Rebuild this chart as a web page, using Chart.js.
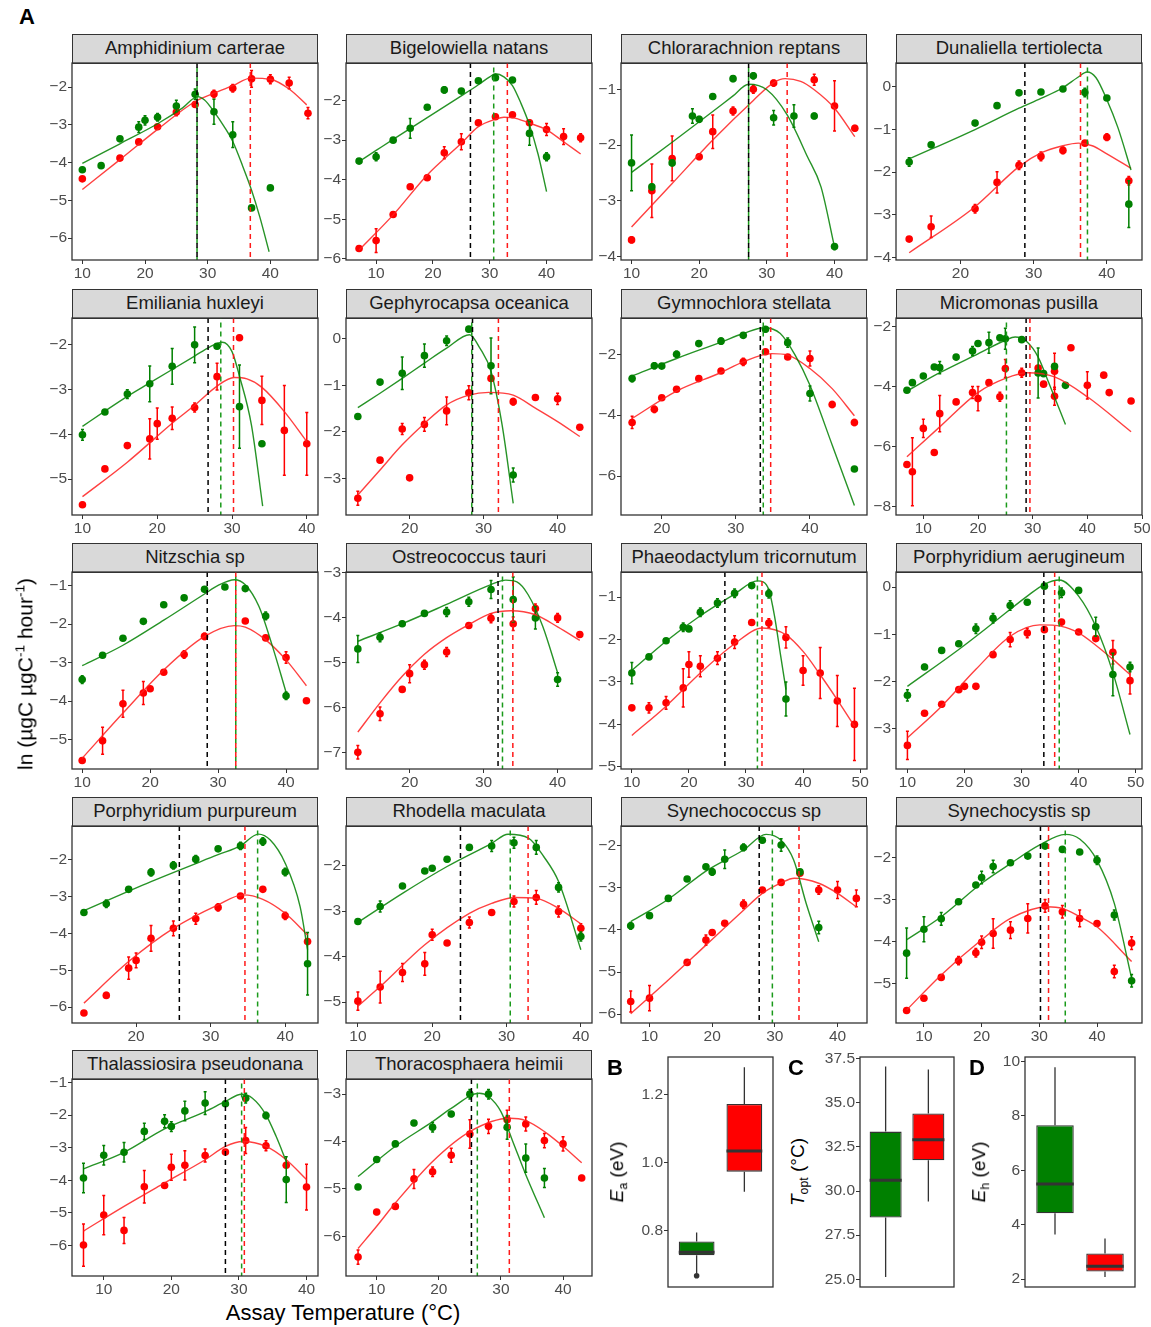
<!DOCTYPE html>
<html>
<head>
<meta charset="utf-8">
<script src="https://cdn.jsdelivr.net/npm/chart.js@4.4.1/dist/chart.umd.min.js"></script>
<style>
  body { margin: 0; background: #fff; }
  #fig { position: relative; width: 1151px; height: 1327px; overflow: hidden; font-family: "Liberation Sans", Arial, sans-serif; }
  #fig canvas { position: absolute; }
  .strip { position: absolute; box-sizing: border-box; background: #d9d9d9; border: 1.2px solid #333;
           color: #1a1a1a; font-size: 18.5px; text-align: center; line-height: 26px; white-space: nowrap; }
  .tag { position: absolute; font-weight: bold; font-size: 22px; line-height: 1; color: #000; }
  .title { position: absolute; white-space: nowrap; color: #000; }
  .rot { transform: translate(-50%, -50%) rotate(-90deg); }
  .ctr { transform: translate(-50%, -50%); }
  .sub { font-size: 0.65em; vertical-align: -0.3em; }
  .sup { font-size: 0.65em; vertical-align: 0.6em; }
</style>
</head>
<body>
<div id="fig"></div>
<script>
// ---- data ----
const species = ['Amphidinium carterae', 'Bigelowiella natans', 'Chlorarachnion reptans', 'Dunaliella tertiolecta',
  'Emiliania huxleyi', 'Gephyrocapsa oceanica', 'Gymnochlora stellata', 'Micromonas pusilla',
  'Nitzschia sp', 'Ostreococcus tauri', 'Phaeodactylum tricornutum', 'Porphyridium aerugineum',
  'Porphyridium purpureum', 'Rhodella maculata', 'Synechococcus sp', 'Synechocystis sp',
  'Thalassiosira pseudonana', 'Thoracosphaera heimii'];

const xRange = [[8.35, 47.6], [4.7, 48.0], [8.44, 44.8], [11.2, 44.8], [8.6, 41.5], [11.4, 44.65],
  [14.5, 47.7], [5.0, 50.0], [8.5, 44.7], [11.4, 44.65], [8.1, 51.2], [8.0, 51.1],
  [11.4, 44.4], [8.4, 41.5], [5.45, 44.7], [5.16, 47.8], [5.3, 41.7], [5.06, 44.66]];
const yRange = [[-6.58, -1.36], [-6.03, -1.05], [-4.06, -0.53], [-4.06, 0.56], [-5.8, -1.4], [-3.79, 0.45],
  [-7.28, -0.81], [-8.27, -1.72], [-5.76, -0.65], [-7.36, -2.98], [-5.05, -0.41], [-3.85, 0.32],
  [-6.43, -1.08], [-5.46, -1.13], [-6.21, -1.53], [-5.95, -1.24], [-6.94, -0.89], [-6.84, -2.68]];
const xTicks = [[10, 20, 30, 40], [10, 20, 30, 40], [10, 20, 30, 40], [20, 30, 40], [10, 20, 30, 40], [20, 30, 40],
  [20, 30, 40], [10, 20, 30, 40, 50], [10, 20, 30, 40], [20, 30, 40], [10, 20, 30, 40, 50], [10, 20, 30, 40, 50],
  [20, 30, 40], [10, 20, 30, 40], [10, 20, 30, 40], [10, 20, 30, 40], [10, 20, 30, 40], [10, 20, 30, 40]];
const yTicks = [[-6, -5, -4, -3, -2], [-6, -5, -4, -3, -2], [-4, -3, -2, -1], [-4, -3, -2, -1, 0], [-5, -4, -3, -2],
  [-3, -2, -1, 0], [-6, -4, -2], [-8, -6, -4, -2], [-5, -4, -3, -2, -1], [-7, -6, -5, -4, -3], [-5, -4, -3, -2, -1],
  [-3, -2, -1, 0], [-6, -5, -4, -3, -2], [-5, -4, -3, -2], [-6, -5, -4, -3, -2], [-5, -4, -3, -2],
  [-6, -5, -4, -3, -2, -1], [-6, -5, -4, -3]];

// [temperature, ln rate, error half-width]
const greenPts = [
  [[10,-4.19,0.06],[13,-4.08,0.05],[16,-3.37,0.05],[19,-3.06,0.14],[20,-2.88,0.12],[22,-2.8,0.1],[25,-2.5,0.15],[28,-2.19,0.14],[31,-2.65,0.33],[34,-3.26,0.34],[37,-5.2,0.06],[40,-4.67,0.05]],
  [[7,-3.53,0.05],[10,-3.42,0.1],[13,-3.0,0.05],[16,-2.7,0.25],[19,-2.17,0.05],[22,-1.73,0.08],[25,-1.76,0.05],[28,-1.5,0.05],[31,-1.42,0.05],[34,-1.48,0.05],[37,-2.83,0.3],[40,-3.42,0.1]],
  [[10,-2.32,0.5],[13,-2.75,0.05],[16,-2.32,0.05],[19,-1.48,0.13],[20,-1.54,0.05],[22,-1.13,0.05],[25,-0.81,0.05],[28,-0.76,0.05],[31,-1.51,0.13],[34,-1.48,0.2],[37,-1.48,0.05],[40,-3.82,0.05]],
  [[13,-1.76,0.1],[16,-1.36,0.05],[22,-0.85,0.05],[25,-0.44,0.05],[28,-0.14,0.05],[31,-0.12,0.05],[34,-0.05,0.05],[37,-0.13,0.1],[40,-0.26,0.05],[43,-2.75,0.55]],
  [[10,-4.01,0.12],[13,-3.5,0.04],[16,-3.1,0.1],[19,-2.87,0.4],[22,-2.48,0.4],[25,-2.0,0.4],[28,-2.03,0.05],[31,-3.38,0.93],[34,-4.21,0.05]],
  [[13,-1.67,0.05],[16,-0.93,0.05],[19,-0.74,0.35],[22,-0.36,0.25],[25,-0.04,0.1],[28,0.21,0.05],[31,-0.58,0.6],[34,-2.93,0.15]],
  [[16,-2.8,0.1],[19,-2.38,0.1],[20,-2.39,0.05],[22,-2.0,0.1],[25,-1.65,0.08],[28,-1.57,0.1],[31,-1.38,0.08],[34,-1.18,0.08],[37,-1.62,0.15],[40,-3.29,0.25],[46,-5.77,0.05]],
  [[7,-4.12,0.05],[8,-3.87,0.05],[10,-3.65,0.05],[12,-3.35,0.05],[13,-3.37,0.2],[16,-3.02,0.08],[19,-2.82,0.15],[20,-2.57,0.05],[22,-2.54,0.35],[24,-2.38,0.05],[25,-2.41,0.35],[28,-2.44,0.08],[31,-3.55,0.83],[32,-3.57,0.05],[34,-3.33,0.05],[36,-3.96,0.05]],
  [[10,-3.44,0.1],[13,-2.81,0.05],[16,-2.37,0.05],[19,-1.93,0.05],[22,-1.5,0.05],[25,-1.32,0.05],[28,-1.1,0.05],[31,-1.04,0.05],[34,-1.08,0.05],[37,-1.79,0.1],[40,-3.86,0.1]],
  [[13,-4.69,0.3],[16,-4.43,0.1],[19,-4.13,0.05],[22,-3.9,0.05],[25,-3.87,0.1],[28,-3.64,0.1],[31,-3.37,0.2],[34,-3.59,0.5],[37,-4.0,0.25],[40,-5.37,0.15]],
  [[10,-2.79,0.25],[13,-2.41,0.05],[16,-2.03,0.05],[19,-1.71,0.1],[20,-1.75,0.05],[22,-1.36,0.1],[25,-1.14,0.1],[28,-0.91,0.1],[31,-0.73,0.05],[34,-0.92,0.1],[37,-3.4,0.4]],
  [[10,-2.29,0.12],[13,-1.69,0.05],[16,-1.34,0.05],[19,-1.2,0.05],[22,-0.88,0.1],[25,-0.66,0.1],[28,-0.39,0.1],[31,-0.32,0.05],[34,0.02,0.05],[37,-0.12,0.1],[40,-0.07,0.05],[43,-0.84,0.2],[46,-1.85,0.45],[49,-1.69,0.1]],
  [[13,-3.43,0.05],[16,-3.19,0.1],[19,-2.8,0.05],[22,-2.34,0.1],[25,-2.15,0.1],[28,-1.98,0.1],[31,-1.7,0.05],[34,-1.62,0.1],[37,-1.5,0.1],[40,-2.33,0.1],[43,-4.82,0.85]],
  [[10,-3.23,0.05],[13,-2.9,0.12],[16,-2.45,0.05],[19,-2.12,0.05],[20,-2.06,0.05],[22,-1.86,0.05],[25,-1.6,0.05],[28,-1.57,0.12],[31,-1.5,0.12],[34,-1.6,0.15],[37,-2.48,0.1],[40,-3.56,0.1]],
  [[7,-3.9,0.08],[10,-3.66,0.05],[13,-3.25,0.05],[16,-2.79,0.05],[19,-2.5,0.05],[20,-2.62,0.08],[22,-2.32,0.22],[25,-2.04,0.08],[28,-1.87,0.05],[31,-1.98,0.15],[34,-2.62,0.05],[37,-3.94,0.15]],
  [[7,-4.28,0.6],[10,-3.71,0.3],[13,-3.46,0.15],[16,-3.05,0.05],[19,-2.65,0.05],[20,-2.47,0.15],[22,-2.21,0.15],[25,-2.12,0.05],[28,-1.96,0.05],[31,-1.72,0.05],[34,-1.8,0.05],[37,-1.86,0.05],[40,-2.06,0.1],[43,-3.37,0.12],[46,-4.94,0.15]],
  [[7,-3.93,0.45],[10,-3.23,0.3],[13,-3.14,0.3],[16,-2.5,0.25],[19,-2.19,0.2],[20,-2.35,0.15],[22,-1.87,0.3],[25,-1.63,0.35],[28,-1.65,0.05],[31,-1.48,0.15],[34,-2.01,0.1],[37,-3.98,0.7]],
  [[7,-4.96,0.05],[10,-4.38,0.05],[13,-4.05,0.05],[16,-3.61,0.05],[19,-3.7,0.1],[22,-3.42,0.05],[25,-3.0,0.1],[28,-3.0,0.1],[31,-3.7,0.25],[34,-4.35,0.3],[37,-4.77,0.2]]
];
const redPts = [
  [[10,-4.43,0.05],[16,-3.88,0.05],[19,-3.45,0.05],[22,-3.05,0.05],[25,-2.66,0.1],[28,-2.46,0.06],[31,-2.18,0.1],[34,-2.03,0.1],[37,-1.78,0.22],[40,-1.79,0.12],[43,-1.89,0.15],[46,-2.69,0.15]],
  [[7,-5.74,0.05],[10,-5.54,0.3],[13,-4.88,0.06],[16,-4.18,0.05],[19,-3.95,0.06],[22,-3.32,0.15],[25,-3.04,0.2],[28,-2.56,0.05],[31,-2.41,0.06],[34,-2.36,0.05],[37,-2.56,0.06],[40,-2.73,0.15],[43,-2.91,0.2],[46,-2.94,0.1]],
  [[10,-3.7,0.05],[13,-2.82,0.48],[16,-2.24,0.4],[20,-2.21,0.05],[22,-1.76,0.3],[25,-1.39,0.07],[28,-1.0,0.07],[31,-0.89,0.05],[37,-0.83,0.1],[40,-1.3,0.45],[43,-1.7,0.05]],
  [[13,-3.57,0.05],[16,-3.28,0.25],[22,-2.86,0.1],[25,-2.24,0.25],[28,-1.84,0.1],[31,-1.63,0.1],[34,-1.49,0.08],[37,-1.32,0.05],[40,-1.18,0.08],[43,-2.2,0.1]],
  [[10,-5.57,0.05],[13,-4.77,0.05],[16,-4.25,0.05],[19,-4.1,0.45],[20,-3.76,0.35],[22,-3.64,0.25],[25,-3.4,0.1],[28,-2.71,0.3],[31,-1.84,0.05],[34,-3.24,0.54],[37,-3.91,1.0],[40,-4.21,0.7]],
  [[13,-3.43,0.15],[16,-2.61,0.05],[19,-1.94,0.12],[20,-2.99,0.05],[22,-1.84,0.15],[25,-1.55,0.3],[28,-1.16,0.15],[31,-0.85,0.05],[34,-1.35,0.07],[37,-1.26,0.05],[40,-1.29,0.12],[43,-1.9,0.05]],
  [[16,-4.24,0.2],[19,-3.81,0.1],[20,-3.43,0.05],[22,-3.15,0.05],[25,-2.8,0.05],[28,-2.55,0.05],[31,-2.25,0.12],[34,-1.92,0.05],[37,-2.09,0.05],[40,-2.14,0.25],[43,-3.65,0.1],[46,-4.24,0.1]],
  [[7,-6.59,0.05],[8,-6.83,1.13],[10,-5.39,0.3],[12,-6.19,0.05],[13,-4.9,0.6],[16,-4.51,0.05],[19,-4.2,0.2],[20,-4.4,0.4],[22,-3.87,0.05],[24,-4.34,0.15],[25,-3.4,0.3],[28,-3.54,0.15],[31,-3.38,0.05],[32,-3.92,0.05],[34,-3.49,0.6],[34,-4.32,0.3],[37,-2.71,0.05],[40,-3.96,0.45],[43,-3.62,0.05],[44,-4.2,0.05],[48,-4.48,0.05]],
  [[10,-5.54,0.05],[13,-5.03,0.35],[16,-4.07,0.35],[19,-3.79,0.3],[20,-3.68,0.05],[22,-3.25,0.05],[25,-2.79,0.1],[28,-2.32,0.08],[34,-1.92,0.05],[37,-2.36,0.05],[40,-2.87,0.15],[43,-3.99,0.05]],
  [[13,-6.99,0.15],[16,-6.13,0.15],[19,-5.59,0.05],[20,-5.24,0.2],[22,-5.04,0.1],[25,-4.76,0.1],[28,-4.17,0.05],[31,-4.01,0.1],[34,-4.13,0.15],[37,-3.79,0.1],[40,-4.0,0.1],[43,-4.37,0.05]],
  [[10,-3.61,0.05],[13,-3.61,0.12],[16,-3.49,0.15],[19,-3.14,0.45],[20,-2.59,0.3],[22,-2.63,0.25],[25,-2.44,0.15],[28,-2.06,0.15],[31,-1.6,0.05],[34,-1.61,0.1],[37,-1.95,0.25],[40,-2.73,0.35],[43,-2.79,0.6],[46,-3.45,0.6],[49,-4.0,0.85]],
  [[10,-3.35,0.3],[13,-2.67,0.05],[16,-2.48,0.05],[19,-2.17,0.05],[20,-2.1,0.05],[22,-2.1,0.05],[25,-1.43,0.05],[28,-1.11,0.15],[31,-0.97,0.1],[34,-0.9,0.05],[37,-0.74,0.05],[40,-0.95,0.05],[43,-1.09,0.05],[46,-1.38,0.25],[49,-1.98,0.28]],
  [[13,-6.16,0.05],[16,-5.68,0.08],[19,-4.94,0.3],[20,-4.73,0.2],[22,-4.13,0.35],[25,-3.86,0.2],[28,-3.6,0.15],[31,-3.29,0.1],[34,-2.98,0.05],[37,-2.8,0.05],[40,-3.52,0.1],[43,-4.22,0.05]],
  [[10,-4.98,0.2],[13,-4.67,0.35],[16,-4.35,0.2],[19,-4.16,0.25],[20,-3.52,0.12],[22,-3.7,0.05],[25,-3.25,0.12],[28,-3.03,0.05],[31,-2.79,0.12],[34,-2.7,0.15],[37,-3.01,0.12],[40,-3.38,0.1]],
  [[7,-5.7,0.25],[10,-5.62,0.3],[16,-4.77,0.05],[19,-4.24,0.12],[20,-4.06,0.05],[22,-3.84,0.05],[25,-3.39,0.1],[28,-3.05,0.05],[31,-2.87,0.05],[34,-2.65,0.05],[37,-3.05,0.1],[40,-3.05,0.2],[43,-3.25,0.2]],
  [[7,-5.65,0.05],[10,-5.36,0.05],[13,-4.86,0.05],[16,-4.46,0.1],[19,-4.27,0.1],[20,-4.02,0.15],[22,-3.81,0.35],[25,-3.73,0.2],[28,-3.45,0.35],[31,-3.15,0.15],[34,-3.29,0.15],[37,-3.45,0.2],[40,-3.57,0.05],[43,-4.72,0.15],[46,-4.04,0.15]],
  [[7,-5.99,0.65],[10,-5.07,0.6],[13,-5.54,0.4],[16,-4.2,0.5],[19,-4.16,0.05],[20,-3.6,0.4],[22,-3.54,0.45],[25,-3.24,0.2],[28,-3.13,0.05],[31,-2.78,0.4],[34,-2.94,0.15],[37,-3.54,0.05],[40,-4.21,0.7]],
  [[7,-6.44,0.15],[10,-5.49,0.05],[13,-5.37,0.05],[16,-4.79,0.2],[19,-4.64,0.1],[22,-4.29,0.15],[25,-3.84,0.3],[28,-3.68,0.15],[31,-3.54,0.2],[34,-3.63,0.15],[37,-3.98,0.15],[40,-4.05,0.15],[43,-4.77,0.05]]
];

// fitted curves as [temperature, ln rate]
const greenFit = [
  [[10,-4.02],[16,-3.5],[22,-2.97],[26,-2.55],[28.4,-2.25],[29.5,-2.34],[31,-2.65],[32.6,-3.04],[34,-3.44],[35.6,-4.1],[37,-4.73],[38.3,-5.43],[39.8,-6.36]],
  [[7,-3.54],[10,-3.26],[13,-2.98],[19,-2.43],[25,-1.88],[28,-1.6],[30,-1.4],[31,-1.32],[32.5,-1.4],[34,-1.62],[35.5,-2.07],[37,-2.62],[38.5,-3.35],[40,-4.3]],
  [[10,-2.49],[16,-1.95],[22,-1.4],[25,-1.12],[27.3,-0.91],[30,-1.01],[33,-1.46],[36,-2.21],[38,-2.75],[40,-3.83]],
  [[13,-1.69],[22,-1.0],[28,-0.5],[31,-0.27],[34,-0.02],[36,0.22],[37.3,0.35],[38.5,0.22],[40,-0.3],[41.5,-0.95],[43.3,-1.95]],
  [[10,-3.82],[13,-3.48],[16,-3.15],[19,-2.85],[22,-2.55],[25,-2.25],[27,-2.05],[28.7,-1.94],[30,-2.15],[31,-2.7],[32.6,-3.79],[34.1,-5.6]],
  [[13,-1.48],[16,-1.17],[19,-0.85],[22,-0.52],[25,-0.2],[28.1,0.09],[29.5,-0.2],[31,-0.7],[32.5,-1.85],[34,-3.54]],
  [[16,-2.71],[22,-2.14],[28,-1.6],[31,-1.32],[33.8,-1.13],[36,-1.32],[38,-2.03],[40,-3.02],[43,-4.98],[46,-6.97]],
  [[7,-4.15],[13,-3.54],[20,-2.91],[25,-2.46],[26.8,-2.35],[29,-2.52],[31,-3.02],[33,-3.9],[36,-5.26]],
  [[10,-3.08],[16,-2.55],[22,-1.9],[28,-1.22],[30,-1.0],[32.4,-0.85],[34,-0.98],[36,-1.54],[38,-2.58],[40,-3.77]],
  [[13,-4.52],[19,-4.13],[25,-3.7],[31,-3.26],[33,-3.16],[34.5,-3.2],[36,-3.48],[38,-4.19],[40,-5.22]],
  [[10,-2.73],[16,-2.04],[22,-1.44],[28,-0.93],[32,-0.62],[33,-0.64],[34,-0.83],[35,-1.45],[36,-2.32],[37,-3.18]],
  [[10,-2.1],[19,-1.32],[25,-0.76],[31,-0.19],[34,0.06],[36.6,0.15],[40,-0.19],[43,-0.83],[46,-1.81],[49,-3.12]],
  [[13,-3.38],[22,-2.59],[31,-1.86],[34,-1.62],[36.4,-1.3],[38,-1.46],[40,-2.09],[42,-3.27],[43,-4.44]],
  [[10,-3.25],[16,-2.61],[22,-2.02],[28,-1.51],[30.2,-1.31],[33,-1.4],[35,-1.8],[37,-2.35],[40,-3.85]],
  [[7,-3.8],[13,-3.27],[19,-2.6],[25,-2.1],[28.6,-1.73],[31,-1.87],[33,-2.34],[35,-3.37],[37,-4.28]],
  [[7,-3.96],[13,-3.41],[20,-2.61],[25,-2.14],[30,-1.7],[34.5,-1.44],[37,-1.55],[40,-2.06],[43,-3.09],[46,-4.88]],
  [[7,-3.65],[13,-3.14],[19,-2.42],[25,-1.89],[28,-1.58],[30.4,-1.36],[32,-1.48],[34,-1.99],[35.5,-2.65],[37,-3.42]],
  [[7,-4.74],[13,-4.1],[19,-3.58],[22,-3.3],[26.5,-2.98],[28,-3.05],[30,-3.37],[32,-4.03],[34,-4.7],[37,-5.61]]
];
const redFit = [
  [[10,-4.71],[16,-3.92],[22,-3.12],[28,-2.38],[31,-2.16],[34,-1.96],[36.9,-1.76],[40,-1.79],[43,-2.05],[45.8,-2.47]],
  [[7,-5.78],[13,-4.89],[19,-3.88],[25,-3.08],[28,-2.66],[31,-2.47],[32.5,-2.42],[34,-2.43],[37,-2.57],[40,-2.74],[43,-3.04],[46,-3.35]],
  [[10,-3.47],[16,-2.69],[22,-1.91],[28,-1.2],[31,-0.88],[32.7,-0.81],[35,-0.86],[37,-1.01],[40,-1.34],[43,-1.85]],
  [[13,-3.89],[22,-2.81],[28,-1.87],[31,-1.55],[34,-1.38],[36.1,-1.32],[38,-1.38],[40,-1.57],[43.3,-1.91]],
  [[10,-5.39],[16,-4.62],[22,-3.75],[25,-3.35],[28,-2.92],[30.3,-2.73],[32,-2.76],[34,-2.95],[37,-3.49],[40,-4.16]],
  [[13,-3.36],[16,-2.82],[19,-2.28],[22,-1.82],[25,-1.42],[28,-1.21],[30.7,-1.15],[34,-1.21],[37,-1.49],[40,-1.78],[43,-2.1]],
  [[16,-4.11],[22,-3.21],[28,-2.6],[31,-2.25],[34.8,-1.98],[37,-2.03],[40,-2.47],[43,-3.13],[46,-4.02]],
  [[7,-6.33],[13,-5.34],[20,-4.2],[25,-3.73],[29,-3.54],[34,-3.68],[40,-4.34],[48,-5.5]],
  [[10,-5.48],[16,-4.31],[22,-3.19],[28,-2.32],[32.4,-2.04],[34,-2.08],[37,-2.41],[40,-2.93],[43,-3.6]],
  [[13,-6.54],[16,-5.89],[19,-5.3],[22,-4.81],[25,-4.44],[28,-4.15],[31,-3.9],[33.7,-3.84],[37,-3.93],[40,-4.2],[43,-4.5]],
  [[10,-4.26],[16,-3.57],[22,-2.79],[28,-2.1],[32.9,-1.73],[37,-1.89],[40,-2.28],[43,-2.83],[46,-3.42],[49,-4.04]],
  [[10,-3.19],[16,-2.52],[22,-1.74],[28,-1.04],[33.2,-0.8],[37,-0.83],[40,-0.97],[43,-1.23],[46,-1.53],[49,-1.85]],
  [[13,-5.89],[19,-4.76],[25,-3.86],[31,-3.22],[34.35,-2.95],[37,-3.07],[40,-3.45],[43,-4.04]],
  [[10,-5.09],[13,-4.66],[19,-3.74],[25,-3.05],[28,-2.83],[31.1,-2.7],[34,-2.72],[37,-2.94],[40,-3.28]],
  [[7,-5.99],[13,-5.19],[19,-4.36],[25,-3.53],[28,-3.13],[31,-2.88],[33.1,-2.77],[37,-2.89],[40,-3.13],[43,-3.45]],
  [[7,-5.64],[13,-4.8],[20,-3.96],[25,-3.45],[31.4,-3.17],[34,-3.21],[37,-3.41],[40,-3.65],[46,-4.48]],
  [[7,-5.56],[13,-4.8],[19,-4.08],[25,-3.37],[28,-2.96],[30.6,-2.81],[34,-2.96],[37,-3.37],[40,-3.98]],
  [[7,-6.26],[10,-5.79],[13,-5.3],[19,-4.42],[25,-3.79],[31.4,-3.51],[34,-3.56],[37,-3.79],[40,-4.1],[43,-4.45]]
];

// optimum temperatures (dashed lines)
const toptBlack = [28.3, 26.6, 27.3, 28.8, 26.8, 28.5, 33.3, 28.8, 28.4, 31.95, 26.3, 33.9, 25.8, 23.8, 27.5, 30.2, 28.0, 25.25];
const toptGreen = [28.3, 30.7, 27.3, 37.35, 28.5, 28.4, 33.7, 25.2, 32.6, 32.55, 32.0, 36.6, 36.3, 30.5, 29.6, 34.5, 30.4, 26.2];
const toptRed = [36.8, 33.1, 33.0, 36.4, 30.2, 32.0, 34.7, 29.5, 32.6, 33.95, 32.8, 35.8, 34.6, 32.9, 33.85, 31.6, 30.8, 31.35];

// box plots: [lower whisker, q1, median, q3, upper whisker] for group 1 (green) and 2 (red)
const eaStats = [[0.675, 0.728, 0.737, 0.769, 0.795], [0.915, 0.974, 1.035, 1.173, 1.281]];
const eaOutliers = [[1, 0.668]];
const toptStats = [[25.13, 28.5, 30.61, 33.37, 37.06], [29.41, 31.75, 32.91, 34.4, 36.89]];
const ehStats = [[3.64, 4.42, 5.49, 7.65, 9.78], [2.08, 2.28, 2.47, 2.94, 3.49]];
const eaRange = [0.635, 1.311], toptRange = [24.56, 37.6], ehRange = [1.71, 10.16];
const eaTicks = [0.8, 1.0, 1.2], toptTicks = [25, 27.5, 30, 32.5, 35, 37.5], ehTicks = [2, 4, 6, 8, 10];

// ---- layout and styles ----
const GREEN = '#008000', RED = '#ff0000';
const colLeft = [72, 346, 621, 896], rowTop = [63, 318, 572, 826, 1079];
const PW = 246, PH = 197, STRIP = 29;
const AX_Y = 44, AX_X = 24, PT = 8, PR = 12;
const TICK_FONT = 15.5;
Chart.defaults.font.family = '"Liberation Sans", Arial, sans-serif';

const fig = document.getElementById('fig');

function minus(v) {
  return v < 0 ? '\u2212' + Math.abs(v) : String(v);
}

// error bars drawn right after each point dataset
const errorBars = {
  id: 'errorBars',
  afterDatasetDraw(chart, args) {
    const ds = chart.data.datasets[args.index];
    if (!ds.err) return;
    const { ctx } = chart;
    const xs = chart.scales.x, ys = chart.scales.y;
    ctx.save();
    ctx.strokeStyle = ds.backgroundColor;
    ctx.lineWidth = 1.5;
    ds.data.forEach((p, i) => {
      const e = ds.err[i];
      if (!e) return;
      const px = xs.getPixelForValue(p.x);
      const y1 = ys.getPixelForValue(p.y - e), y2 = ys.getPixelForValue(p.y + e);
      ctx.beginPath();
      ctx.moveTo(px, y1); ctx.lineTo(px, y2);
      ctx.moveTo(px - 1.5, y1); ctx.lineTo(px + 1.5, y1);
      ctx.moveTo(px - 1.5, y2); ctx.lineTo(px + 1.5, y2);
      ctx.stroke();
    });
    ctx.restore();
  }
};

// dashed optimum lines + panel frame
const panelDecor = {
  id: 'panelDecor',
  afterDatasetsDraw(chart, args, opts) {
    const { ctx, chartArea: a } = chart;
    const xs = chart.scales.x;
    ctx.save();
    ctx.lineWidth = 1.5;
    ctx.setLineDash([5, 4]);
    [['green', '#1a9a1a', 4.5], ['red', '#ff1a1a', 0], ['black', '#000', 0]].forEach(([k, c, off]) => {
      const v = opts[k];
      if (v == null) return;
      const px = xs.getPixelForValue(v);
      ctx.strokeStyle = c;
      ctx.lineDashOffset = off;
      ctx.beginPath();
      ctx.moveTo(px, a.top); ctx.lineTo(px, a.bottom);
      ctx.stroke();
    });
    ctx.setLineDash([]);
    ctx.strokeStyle = '#333';
    ctx.lineWidth = 1.3;
    ctx.strokeRect(a.left, a.top, a.right - a.left, a.bottom - a.top);
    ctx.restore();
  }
};

function axisStyle(ticks, range, isY) {
  return {
    type: 'linear',
    min: range[0],
    max: range[1],
    afterBuildTicks: s => { s.ticks = ticks.map(v => ({ value: v })); },
    afterFit: s => {
      if (isY) { s.width = AX_Y; s.paddingTop = 0; s.paddingBottom = 0; }
      else { s.height = AX_X; s.paddingLeft = 0; s.paddingRight = 0; }
    },
    ticks: {
      autoSkip: false, maxRotation: 0, padding: isY ? 1 : 0,
      color: '#4d4d4d', font: { size: TICK_FONT },
      callback: v => minus(v)
    },
    grid: { drawOnChartArea: false, drawTicks: true, tickLength: 4, color: '#333', lineWidth: 1 },
    border: { display: false }
  };
}

function makePanel(i) {
  const L = colLeft[i % 4], T = rowTop[Math.floor(i / 4)];

  const strip = document.createElement('div');
  strip.className = 'strip';
  strip.style.left = L + 'px';
  strip.style.top = (T - STRIP) + 'px';
  strip.style.width = PW + 'px';
  strip.style.height = (STRIP + 1) + 'px';
  strip.textContent = species[i];
  fig.appendChild(strip);

  const cv = document.createElement('canvas');
  cv.width = AX_Y + PW + PR;
  cv.height = PT + PH + AX_X;
  cv.style.left = (L - AX_Y) + 'px';
  cv.style.top = (T - PT) + 'px';
  fig.appendChild(cv);

  const toXY = arr => arr.map(p => ({ x: p[0], y: p[1] }));

  new Chart(cv, {
    type: 'scatter',
    data: {
      datasets: [
        { type: 'line', data: toXY(greenFit[i]), borderColor: 'rgba(0,128,0,0.85)', borderWidth: 1.4,
          pointRadius: 0, cubicInterpolationMode: 'monotone', fill: false },
        { type: 'line', data: toXY(redFit[i]), borderColor: 'rgba(255,30,30,0.85)', borderWidth: 1.4,
          pointRadius: 0, cubicInterpolationMode: 'monotone', fill: false },
        { data: toXY(greenPts[i]), err: greenPts[i].map(p => p[2]), backgroundColor: GREEN,
          borderWidth: 0, pointRadius: 3.8 },
        { data: toXY(redPts[i]), err: redPts[i].map(p => p[2]), backgroundColor: RED,
          borderWidth: 0, pointRadius: 3.8 }
      ]
    },
    options: {
      responsive: false,
      animation: false,
      devicePixelRatio: 1,
      layout: { padding: { top: PT, right: PR, left: 0, bottom: 0 } },
      plugins: {
        legend: { display: false },
        tooltip: { enabled: false },
        panelDecor: { black: toptBlack[i], green: toptGreen[i], red: toptRed[i] }
      },
      scales: {
        x: axisStyle(xTicks[i], xRange[i], false),
        y: axisStyle(yTicks[i], yRange[i], true)
      }
    },
    plugins: [errorBars, panelDecor]
  });
}

species.forEach((s, i) => makePanel(i));

// ---- box plots B, C, D ----
const boxDecor = {
  id: 'boxDecor',
  afterDatasetsDraw(chart) {
    const { ctx, chartArea: a } = chart;
    const ds = chart.data.datasets[0];
    const meta = chart.getDatasetMeta(0);
    const xs = chart.scales.x, ys = chart.scales.y;
    ctx.save();
    ctx.strokeStyle = '#333';
    ds.stats.forEach((s, i) => {
      const bar = meta.data[i];
      const px = bar.x, half = bar.width / 2;
      ctx.lineWidth = 1.3;
      ctx.beginPath();
      ctx.moveTo(px, ys.getPixelForValue(s[3])); ctx.lineTo(px, ys.getPixelForValue(s[4]));
      ctx.moveTo(px, ys.getPixelForValue(s[1])); ctx.lineTo(px, ys.getPixelForValue(s[0]));
      ctx.stroke();
      ctx.lineWidth = 3;
      ctx.beginPath();
      ctx.moveTo(px - half, ys.getPixelForValue(s[2])); ctx.lineTo(px + half, ys.getPixelForValue(s[2]));
      ctx.stroke();
    });
    ctx.fillStyle = '#333';
    (ds.outliers || []).forEach(o => {
      ctx.beginPath();
      ctx.arc(xs.getPixelForValue(o[0]), ys.getPixelForValue(o[1]), 2.8, 0, Math.PI * 2);
      ctx.fill();
    });
    ctx.lineWidth = 1.3;
    ctx.strokeRect(a.left, a.top, a.right - a.left, a.bottom - a.top);
    ctx.restore();
  }
};

function makeBox(L, W, stats, outliers, range, ticks, digits) {
  const T = 1057, H = 230, AX = 42;
  const cv = document.createElement('canvas');
  cv.width = AX + W + 4;
  cv.height = 8 + H + 4;
  cv.style.left = (L - AX) + 'px';
  cv.style.top = (T - 8) + 'px';
  fig.appendChild(cv);
  new Chart(cv, {
    type: 'bar',
    data: {
      datasets: [{
        data: stats.map((s, i) => ({ x: i + 1, y: [s[1], s[3]] })),
        stats: stats,
        outliers: outliers,
        backgroundColor: [GREEN, RED],
        borderColor: '#333',
        borderWidth: 1.3,
        borderSkipped: false,
        barPercentage: 0.75,
        categoryPercentage: 1
      }]
    },
    options: {
      responsive: false,
      animation: false,
      devicePixelRatio: 1,
      layout: { padding: { top: 8, right: 4, left: 0, bottom: 4 } },
      plugins: { legend: { display: false }, tooltip: { enabled: false } },
      scales: {
        // groups sit at 1 and 2 on a 0.4..2.6 axis, as in the original; nothing of the axis is drawn
        x: {
          type: 'linear', min: 0.4, max: 2.6, offset: false,
          afterBuildTicks: s => { s.ticks = [{ value: 1 }, { value: 2 }]; },
          afterFit: s => { s.height = 0; s.paddingLeft = 0; s.paddingRight = 0; },
          ticks: { display: false },
          grid: { display: false },
          border: { display: false }
        },
        y: {
          min: range[0], max: range[1],
          afterBuildTicks: s => { s.ticks = ticks.map(v => ({ value: v })); },
          afterFit: s => { s.width = AX; s.paddingTop = 0; s.paddingBottom = 0; },
          ticks: { color: '#4d4d4d', font: { size: TICK_FONT }, padding: 1, callback: v => v.toFixed(digits) },
          grid: { drawOnChartArea: false, drawTicks: true, tickLength: 4, color: '#333' },
          border: { display: false }
        }
      }
    },
    plugins: [boxDecor]
  });
}

makeBox(668, 105, eaStats, eaOutliers, eaRange, eaTicks, 1);
makeBox(860, 94, toptStats, [], toptRange, toptTicks, 1);
makeBox(1025, 110, ehStats, [], ehRange, ehTicks, 0);

// ---- titles and panel letters ----
function addText(html, cls, x, y, size) {
  const d = document.createElement('div');
  d.className = cls;
  d.style.left = x + 'px';
  d.style.top = y + 'px';
  if (size) d.style.fontSize = size + 'px';
  d.innerHTML = html;
  fig.appendChild(d);
}

addText('A', 'tag', 19, 6);
addText('B', 'tag', 607, 1057);
addText('C', 'tag', 788, 1057);
addText('D', 'tag', 969, 1057);
addText('ln (µgC µgC<span class="sup">-1</span> hour<span class="sup">-1</span>)', 'title rot', 25, 674, 21);
addText('Assay Temperature (°C)', 'title ctr', 343, 1313, 22);
addText('<i>E</i><span class="sub">a</span> (eV)', 'title rot', 618, 1172, 19);
addText('<i>T</i><span class="sub">opt</span> (°C)', 'title rot', 799, 1172, 19);
addText('<i>E</i><span class="sub">h</span> (eV)', 'title rot', 980, 1172, 19);
</script>
</body>
</html>
